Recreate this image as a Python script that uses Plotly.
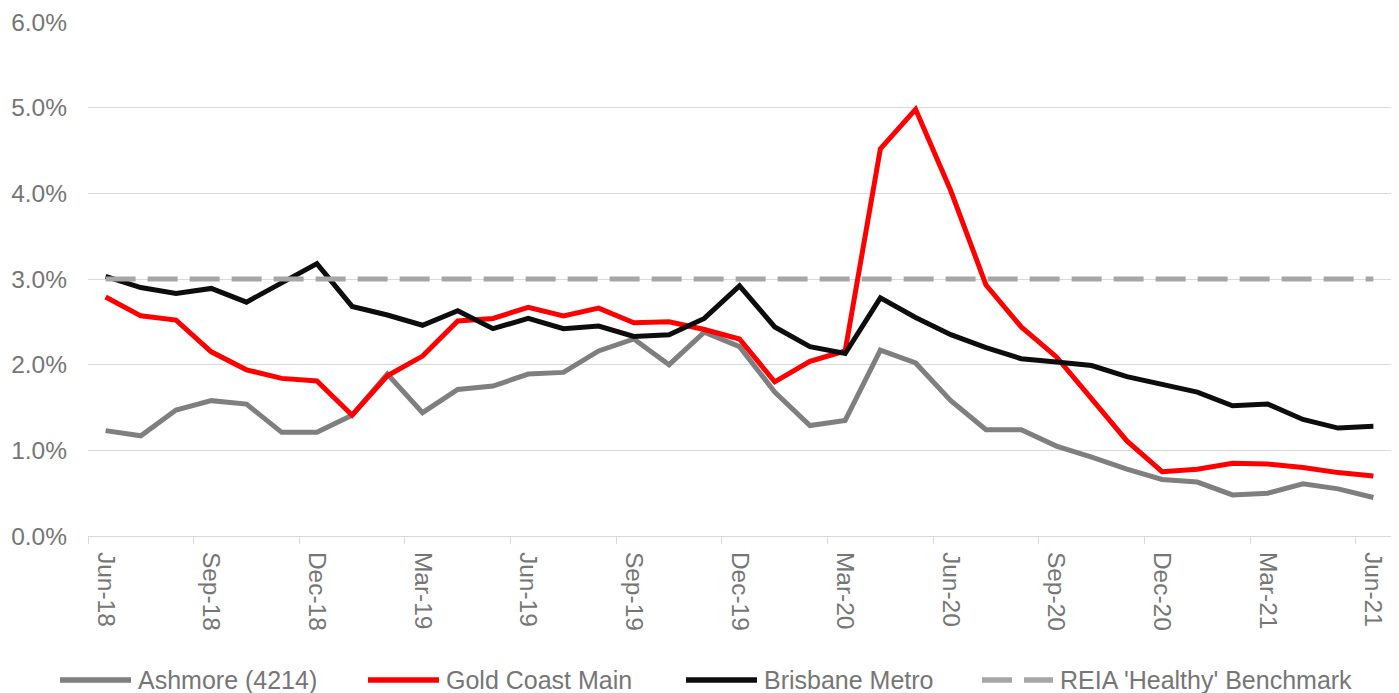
import plotly.graph_objects as go

months = ["Jun-18","Jul-18","Aug-18","Sep-18","Oct-18","Nov-18","Dec-18","Jan-19","Feb-19","Mar-19","Apr-19","May-19",
          "Jun-19","Jul-19","Aug-19","Sep-19","Oct-19","Nov-19","Dec-19","Jan-20","Feb-20","Mar-20","Apr-20","May-20",
          "Jun-20","Jul-20","Aug-20","Sep-20","Oct-20","Nov-20","Dec-20","Jan-21","Feb-21","Mar-21","Apr-21","May-21","Jun-21"]

ashmore = [1.23,1.17,1.47,1.58,1.54,1.21,1.21,1.41,1.89,1.44,1.71,1.75,1.89,1.91,2.16,2.30,2.00,2.38,2.21,1.68,1.29,1.35,
           2.17,2.02,1.58,1.24,1.24,1.05,0.92,0.78,0.66,0.63,0.48,0.50,0.61,0.55,0.45]
gold_coast = [2.79,2.57,2.52,2.15,1.94,1.84,1.81,1.41,1.87,2.10,2.51,2.54,2.67,2.57,2.66,2.49,2.50,2.41,2.30,1.80,2.04,2.16,
              4.52,4.98,4.03,2.93,2.44,2.09,1.60,1.11,0.75,0.78,0.85,0.84,0.80,0.74,0.70]
brisbane = [3.03,2.90,2.83,2.89,2.73,2.95,3.18,2.68,2.58,2.46,2.63,2.42,2.54,2.42,2.45,2.33,2.35,2.54,2.92,2.44,2.21,2.13,
            2.78,2.55,2.35,2.20,2.07,2.03,1.99,1.86,1.77,1.68,1.52,1.54,1.36,1.26,1.28]
benchmark = [3.0] * len(months)

series_names = ["Ashmore (4214)", "Gold Coast Main", "Brisbane Metro", "REIA 'Healthy' Benchmark"]
series_values = [ashmore, gold_coast, brisbane, benchmark]

x = list(range(len(months)))
tick_idx = x[::3]
tick_text = [months[i] for i in tick_idx]
boundaries = [i - 0.5 for i in tick_idx]

FONT = "Liberation Sans, Arial, sans-serif"
TXT = "#767676"
W, H = 1399, 693
ML, MR, MT, MB = 88, 8, 22, 157
PW, PH = W - ML - MR, H - MT - MB

colors = ["#7F7F7F", "#FF0000", "#0D0D0D", "#A6A6A8"]
dashes = ["solid", "solid", "solid", "30px,12px"]

fig = go.Figure()
for name, vals, col, dash in zip(series_names, series_values, colors, dashes):
    fig.add_trace(go.Scatter(
        x=x, y=vals, name=name, mode="lines", showlegend=False,
        line=dict(color=col, width=5, dash=dash),
    ))

# custom legend (long line samples like the original)
def px_x(p):
    return (p - ML) / PW

def px_y(p):
    return (H - MB - p) / PH

legend_line_starts = [60, 368, 686, 982]
LEG_Y = 680
shapes = []
annotations = []
for name, col, dash, sx in zip(series_names, colors, dashes, legend_line_starts):
    shapes.append(dict(type="line", xref="paper", yref="paper",
                       x0=px_x(sx), x1=px_x(sx + 71), y0=px_y(LEG_Y), y1=px_y(LEG_Y),
                       line=dict(color=col, width=5.5, dash=dash)))
    annotations.append(dict(text=name, xref="paper", yref="paper", x=px_x(sx + 76), y=px_y(LEG_Y),
                            xanchor="left", yanchor="middle", showarrow=False,
                            font=dict(family=FONT, size=25, color=TXT)))

fig.update_layout(
    width=W, height=H,
    margin=dict(l=ML, r=MR, t=MT, b=MB),
    paper_bgcolor="white", plot_bgcolor="white",
    font=dict(family=FONT, size=24.5, color=TXT),
    showlegend=False,
    shapes=shapes, annotations=annotations,
)
fig.update_xaxes(
    range=[-0.5, len(months) - 0.5],
    tickmode="array", tickvals=tick_idx, ticktext=tick_text, tickangle=90,
    ticks="", showgrid=False, zeroline=False,
    showline=True, linecolor="#D9D9D9", linewidth=1,
    tickfont=dict(size=24.5, color=TXT), ticklabelstandoff=10,
    minor=dict(tickmode="array", tickvals=boundaries, ticks="outside", ticklen=7,
               tickcolor="#D9D9D9", tickwidth=1, showgrid=False),
    automargin=False,
)
fig.update_yaxes(
    range=[0, 6], dtick=1, tick0=0, tickformat=".1f", ticksuffix="%",
    showgrid=True, gridcolor="#D9D9D9", gridwidth=1, zeroline=False, showline=False,
    ticks="", tickfont=dict(size=24.5, color=TXT), ticklabelstandoff=20,
    automargin=False,
)

fig.write_html("out.html")
